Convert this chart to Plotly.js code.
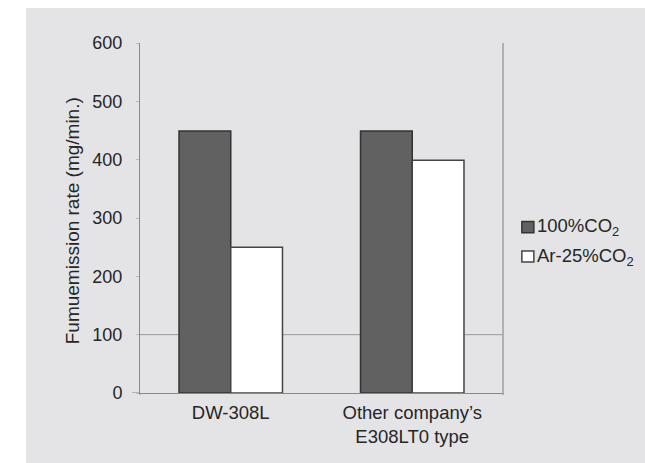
<!DOCTYPE html>
<html><head><meta charset="utf-8">
<script src="https://cdn.plot.ly/plotly-3.0.1.min.js"></script>
<style>body{margin:0;background:#fff;}#chart{position:absolute;left:26px;top:8px;width:619px;height:455px;}</style>
</head><body><div id="chart"></div>
<script>
var categories = ["DW-308L", "Other company’s<br>E308LT0 type"];
var seriesNames = ["100%CO<sub>2</sub>", "Ar-25%CO<sub>2</sub>"];
var co2Values = [449, 449];
var arValues = [250, 399];
var yTicks = [0, 100, 200, 300, 400, 500, 600];
var yTitle = "Fumuemission rate (mg/min.)";

var FAM = "Liberation Sans, Arial, sans-serif";
function f(sz){ return {family: FAM, size: sz, color: "#262626"}; }
var colors = ["#616161", "#ffffff"];
var edges = ["#333333", "#444444"];

var traces = [
  {type: "bar", x: categories, y: co2Values, name: seriesNames[0], showlegend: false,
   marker: {color: colors[0], line: {color: edges[0], width: 1.5}}},
  {type: "bar", x: categories, y: arValues, name: seriesNames[1], showlegend: false,
   marker: {color: colors[1], line: {color: edges[1], width: 1.5}}}
];

var legendY = [0.474, 0.39];
var shapes = [
  {type: "line", xref: "paper", yref: "y", x0: 0, x1: 1, y0: 100, y1: 100,
   line: {color: "#9a9a9a", width: 1}, layer: "below"},
  {type: "line", xref: "paper", yref: "paper", x0: 1, x1: 1, y0: -0.006, y1: 1,
   line: {color: "#a0a0a0", width: 1.5}, layer: "below"},
  {type: "line", xref: "paper", yref: "paper", x0: 0, x1: 0, y0: -0.006, y1: 0,
   line: {color: "#888", width: 1}, layer: "below"},
  {type: "line", xref: "paper", yref: "y", x0: -0.022, x1: 0, y0: 0, y1: 0,
   line: {color: "#888", width: 1}, layer: "below"}
];
var annotations = [
  {xref: "paper", yref: "paper", x: -0.187, y: 0.491, text: yTitle, textangle: -90,
   showarrow: false, font: f(19), xanchor: "center", yanchor: "middle"}
];
for (var i = 0; i < seriesNames.length; i++) {
  shapes.push({type: "rect", xref: "paper", yref: "paper",
    x0: 1.052, x1: 1.085, y0: legendY[i] - 0.016, y1: legendY[i] + 0.016,
    fillcolor: colors[i], line: {color: edges[i], width: 1.5}});
  annotations.push({xref: "paper", yref: "paper", x: 1.089, y: legendY[i], text: seriesNames[i],
    showarrow: false, xanchor: "left", yanchor: "middle", font: f(18.5)});
}

var layout = {
  width: 619, height: 455,
  margin: {l: 114, r: 142, t: 35, b: 70},
  paper_bgcolor: "#e4e4e6", plot_bgcolor: "#e4e4e6",
  font: f(18.5),
  barmode: "group", bargap: 0.43, bargroupgap: 0,
  showlegend: false,
  xaxis: {showline: true, linecolor: "#888", linewidth: 1, ticks: "", tickfont: f(18.5),
          showgrid: false, zeroline: false, range: [-0.5, 1.5], ticklabelstandoff: 3},
  yaxis: {range: [0, 600], tickvals: yTicks, showline: true, linecolor: "#888", linewidth: 1,
          ticks: "outside", ticklen: 3, tickcolor: "#bbb", showgrid: false, zeroline: false,
          tickfont: f(18), ticklabelstandoff: 10},
  shapes: shapes,
  annotations: annotations
};
Plotly.newPlot("chart", traces, layout, {displayModeBar: false});
</script></body></html>
